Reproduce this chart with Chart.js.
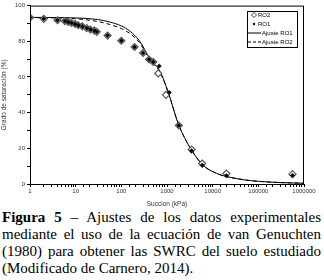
<!DOCTYPE html>
<html>
<head>
<meta charset="utf-8">
<script src="https://cdn.jsdelivr.net/npm/chart.js@4"></script>
<style>
  body { margin: 0; background: #fff; width: 324px; height: 280px; overflow: hidden; }
  #wrap { position: relative; width: 324px; height: 208px; }
  #caption {
    font-family: 'Liberation Serif', 'Times New Roman', serif;
    font-size: 15px; line-height: 17px; color: #000;
    text-align: justify; padding: 0 3px 0 2px; margin-top: 1px;
  }
</style>
</head>
<body>
<div id="wrap"><canvas id="chart" width="324" height="208"></canvas></div>
<div id="caption"><b>Figura 5</b> – Ajustes de los datos experimentales mediante el uso de la ecuación de van Genuchten (1980) para obtener las SWRC del suelo estudiado (Modificado de Carnero, 2014).</div>
<script>
// measured points (suction kPa / saturation %)
const ro1Suction = [1, 2, 4, 5.8, 6.9, 8.1, 9.7, 11.4, 14, 17.4, 21, 25.6, 29, 50, 100, 195, 300, 405, 500, 676, 1120, 1820, 3460, 5900, 20000, 560000];
const ro1Sat = [93.3, 92.6, 91.8, 91.3, 90.8, 90.3, 89.7, 89, 88.3, 87.4, 86.6, 86, 85.3, 83.2, 80.3, 76.8, 73.5, 69.8, 68.4, 66.1, 51.3, 32.8, 18.6, 10.5, 4.6, 4.8];
const ro2Suction = [1, 2, 4, 5.8, 6.9, 8.1, 9.7, 11.4, 14, 17.4, 21, 25.6, 29, 50, 100, 195, 300, 405, 500, 643, 950, 1820, 3460, 5900, 20000, 560000];
const ro2Sat = [93.3, 92.6, 91.8, 91.3, 90.8, 90.3, 89.7, 89, 88.3, 87.4, 86.6, 86, 85.3, 83.2, 80.3, 76.8, 73.5, 69.8, 68.4, 62, 50, 32.8, 19.3, 11.5, 5.9, 5.5];

// fitted curves
const fitSuction = [1, 10, 30, 56, 100, 155, 250, 424, 700, 1070, 1770, 3300, 6200, 12000, 20000, 50000, 100000, 300000, 1000000];
const fitRO1 = [93.4, 93.1, 92.2, 90.8, 88.6, 85.6, 80.2, 70.2, 63.2, 51.3, 33.7, 19.8, 10.5, 6.0, 4.2, 2.3, 1.5, 0.8, 0.4];
const fitRO2 = [93.3, 92.6, 91.1, 89.4, 87.1, 84.3, 79.2, 69.6, 62.7, 51.0, 33.7, 19.8, 10.5, 6.0, 4.2, 2.3, 1.5, 0.8, 0.4];

const xTickLabels = ['1', '10', '100', '1000', '10000', '100000', '1000000'];
const yTickLabels = ['0', '20', '40', '60', '80', '100'];

const pts = (xs, ys) => xs.map((x, i) => ({ x: x, y: ys[i] }));

const frameAndLegend = {
  id: 'frameAndLegend',
  afterDraw(chart) {
    const c = chart.ctx, a = chart.chartArea;
    c.save();
    c.strokeStyle = '#000';
    c.lineWidth = 1;
    c.strokeRect(a.left + 0.5, a.top + 0.5, a.right - a.left - 1, a.bottom - a.top);
    // legend box
    const bx = 247, by = 11, bw = 50, bh = 36;
    c.fillStyle = '#fff';
    c.fillRect(bx, by, bw, bh);
    c.strokeRect(bx + 0.5, by + 0.5, bw, bh);
    c.font = '6px Arial, "Liberation Sans", sans-serif';
    c.textBaseline = 'middle';
    c.fillStyle = '#000';
    const rows = [15, 24, 33, 42];
    // RO2 diamond
    c.beginPath();
    c.moveTo(254, rows[0] - 2.5); c.lineTo(256.5, rows[0]); c.lineTo(254, rows[0] + 2.5); c.lineTo(251.5, rows[0]); c.closePath();
    c.strokeStyle = '#444'; c.stroke();
    c.fillText('RO2', 258, rows[0]);
    // RO1 filled
    c.beginPath();
    c.moveTo(254, rows[1] - 1.5); c.lineTo(255.5, rows[1]); c.lineTo(254, rows[1] + 1.5); c.lineTo(252.5, rows[1]); c.closePath();
    c.fillStyle = '#000'; c.fill();
    c.fillText('RO1', 258, rows[1]);
    c.strokeStyle = '#000';
    c.beginPath(); c.moveTo(248, rows[2]); c.lineTo(261, rows[2]); c.stroke();
    c.fillText('Ajuste RO1', 262, rows[2]);
    c.setLineDash([3, 2]);
    c.beginPath(); c.moveTo(248, rows[3]); c.lineTo(261, rows[3]); c.stroke();
    c.setLineDash([]);
    c.fillText('Ajuste RO2', 262, rows[3]);
    c.restore();
  }
};

new Chart(document.getElementById('chart'), {
  type: 'scatter',
  data: {
    datasets: [
      {
        label: 'Ajuste RO1',
        order: 3,
        data: pts(fitSuction, fitRO1),
        showLine: true, pointRadius: 0,
        borderColor: '#000', borderWidth: 1,
        cubicInterpolationMode: 'monotone'
      },
      {
        label: 'Ajuste RO2',
        order: 2,
        data: pts(fitSuction, fitRO2),
        showLine: true, pointRadius: 0,
        borderColor: '#000', borderWidth: 1, borderDash: [4, 3],
        cubicInterpolationMode: 'monotone'
      },
      {
        label: 'RO2',
        order: 1,
        data: pts(ro2Suction, ro2Sat),
        pointStyle: 'rectRot', pointRadius: 3.5,
        backgroundColor: '#fff', borderColor: '#555', borderWidth: 1.2
      },
      {
        label: 'RO1',
        order: 0,
        data: pts(ro1Suction, ro1Sat),
        pointStyle: 'rectRot', pointRadius: 2.2,
        backgroundColor: '#000', borderColor: '#000', borderWidth: 0.5
      }
    ]
  },
  options: {
    responsive: false,
    animation: false,
    events: [],
    layout: { padding: { left: 0, top: 4, right: 20, bottom: 0 } },
    plugins: { legend: { display: false }, tooltip: { enabled: false } },
    scales: {
      x: {
        type: 'logarithmic',
        min: 1, max: 1000000,
        afterFit: function (scale) { scale.height = 24; },
        grid: { drawOnChartArea: false, tickLength: 3, color: '#000' },
        border: { color: '#000', width: 1 },
        ticks: {
          autoSkip: false, maxRotation: 0, padding: 1,
          font: { size: 6, family: 'Arial' }, color: '#333',
          callback: function (v) {
            const s = String(v);
            return xTickLabels.includes(s) ? s : '';
          }
        },
        title: { display: true, text: 'Succion (kPa)', font: { size: 6.5, family: 'Arial' }, color: '#333', padding: { top: 2, bottom: 0 } }
      },
      y: {
        min: 0, max: 100,
        afterFit: function (scale) { scale.width = 30; },
        grid: { drawOnChartArea: false, tickLength: 3, color: '#000' },
        border: { color: '#000', width: 1 },
        ticks: {
          stepSize: 5, padding: 2,
          font: { size: 6, family: 'Arial' }, color: '#333',
          callback: function (v) {
            const s = String(v);
            return yTickLabels.includes(s) ? s : '';
          }
        },
        title: { display: true, text: 'Grado de saturación (%)', font: { size: 6.5, family: 'Arial' }, color: '#333', padding: { top: 0, bottom: 2 } }
      }
    }
  },
  plugins: [frameAndLegend]
});
</script>
</body>
</html>
